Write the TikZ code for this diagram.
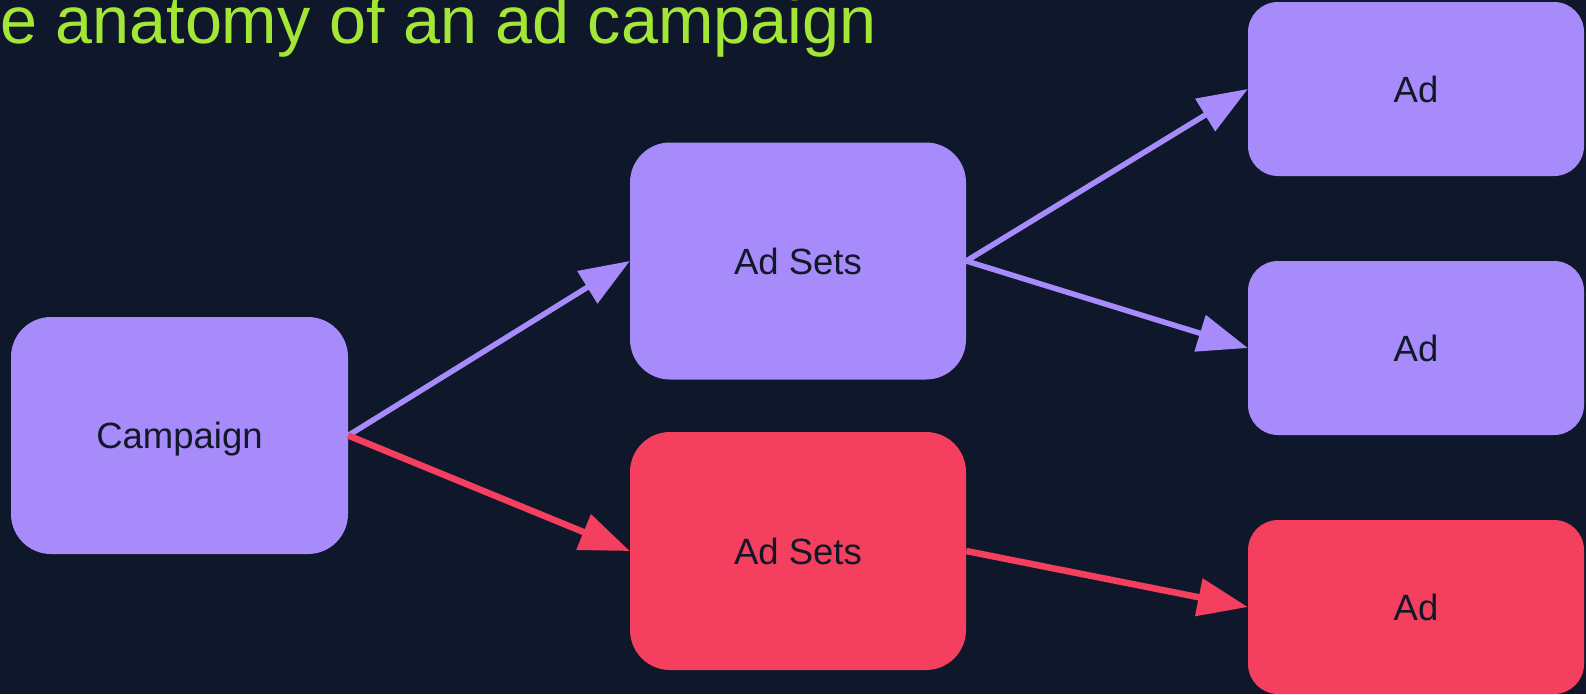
\documentclass[tikz,border=0pt]{standalone}
\usepackage{fontspec}
\setmainfont{Liberation Sans}
\usetikzlibrary{arrows.meta}
\definecolor{bgc}{HTML}{0F172A}
\definecolor{purp}{HTML}{A78BFA}
\definecolor{rose}{HTML}{F43F5E}
\definecolor{lime}{HTML}{A3E635}
\definecolor{txt}{HTML}{111827}
\begin{document}
\begin{tikzpicture}[x=1pt,y=-1pt,
  box/.style={rectangle, inner sep=0pt, text=txt, font=\fontsize{36.5}{40}\selectfont, minimum width=336pt, text height=26pt, text depth=0pt},
  bigbox/.style={box, minimum height=237pt, rounded corners=40pt},
  adbox/.style={box, minimum height=174pt, rounded corners=30pt},
  parr/.style={draw=purp, line width=5.5pt, -{Triangle[length=50pt,width=37pt]}},
  rarr/.style={draw=rose, line width=6.5pt, -{Triangle[length=50pt,width=37pt]}}]
\fill[bgc] (0,0) rectangle (1586,694);
\useasboundingbox (0,0) rectangle (1586,694);
\clip (0,0) rectangle (1586,694);
\node[anchor=base west, inner sep=0pt, text=lime, font=\fontsize{66.5}{70}\selectfont] (title) at (0,43) {e anatomy of an ad campaign};
\node[bigbox, fill=purp, minimum width=337pt] (camp) at (179.5,435.5) {Campaign};
\node[bigbox, fill=purp] (as1) at (798,261) {Ad Sets};
\node[bigbox, fill=rose, minimum height=238pt] (as2) at (798,551) {Ad Sets};
\node[adbox, fill=purp] (ad1) at (1416,89) {Ad};
\node[adbox, fill=purp] (ad2) at (1416,348) {Ad};
\node[adbox, fill=rose] (ad3) at (1416,607) {Ad};
\draw[parr] (camp.east) -- (as1.west);
\draw[rarr] (camp.east) -- (as2.west);
\draw[parr] (as1.east) -- (ad1.west);
\draw[parr] (as1.east) -- (ad2.west);
\draw[rarr] (as2.east) -- (ad3.west);
\end{tikzpicture}
\end{document}
